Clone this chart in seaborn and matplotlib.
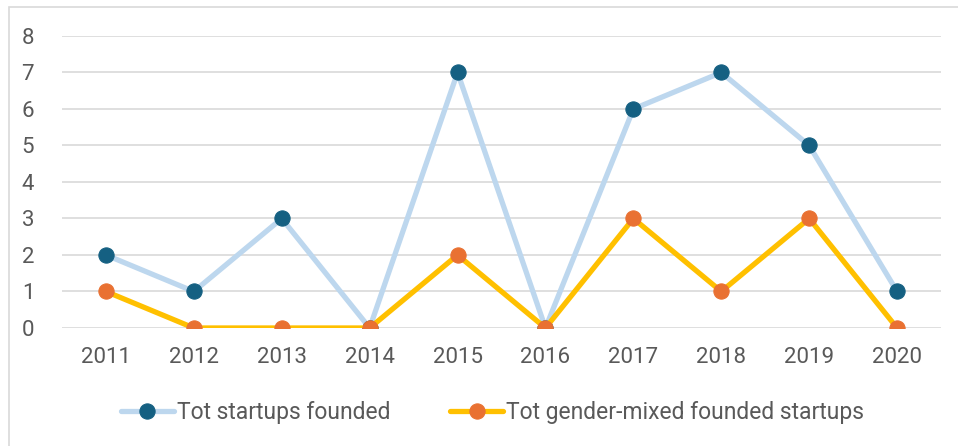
import matplotlib
matplotlib.use("Agg")
import matplotlib.pyplot as plt
import seaborn as sns
import pandas as pd
from matplotlib.patches import Rectangle

years = ["2011", "2012", "2013", "2014", "2015", "2016", "2017", "2018", "2019", "2020"]
tot_startups = [2, 1, 3, 0, 7, 0, 6, 7, 5, 1]
tot_mixed = [1, 0, 0, 0, 2, 0, 3, 1, 3, 0]

df = pd.DataFrame({"year": years, "total": tot_startups, "mixed": tot_mixed})

sns.set_style("white")
plt.rcParams["font.family"] = ["Roboto", "DejaVu Sans"]
text_col = "#595959"

fig = plt.figure(figsize=(9.58, 4.46), dpi=100)
ax = fig.add_axes([0.0647, 0.2646, 0.9176, 0.6547])

# figure border (left/top visible like the original export)
fig.patches.append(Rectangle((9 / 958, -0.1), 1.2, 1 - 7 / 446 + 0.1,
                             transform=fig.transFigure, fill=False,
                             edgecolor="#D9D9D9", linewidth=1.2))

sns.lineplot(data=df, x="year", y="total", ax=ax, color="#BDD7EE", linewidth=3.8,
             marker="o", markersize=11, markerfacecolor="#156082",
             markeredgecolor="#156082", label="Tot startups founded", zorder=3)
sns.lineplot(data=df, x="year", y="mixed", ax=ax, color="#FFC000", linewidth=3.8,
             marker="o", markersize=11, markerfacecolor="#E97132",
             markeredgecolor="#E97132", label="Tot gender-mixed founded startups", zorder=4)

ax.set_xlim(-0.5, 9.5)
ax.set_ylim(0, 8)
ax.set_yticks(range(0, 9))
ax.yaxis.grid(True, color="#D9D9D9", linewidth=1.2)
ax.set_axisbelow(True)
for s in ax.spines.values():
    s.set_visible(False)
ax.tick_params(axis="both", length=0, labelsize=16, colors=text_col)
ax.tick_params(axis="x", pad=14)
ax.tick_params(axis="y", pad=20)
ax.set_xlabel("")
ax.set_ylabel("")

leg = ax.legend(loc="center", bbox_to_anchor=(0.49, -0.29), ncol=2, frameon=False,
                fontsize=16.5, handlelength=2.3, handletextpad=0.15, columnspacing=2.6)
for t in leg.get_texts():
    t.set_color(text_col)

fig.savefig("out.png", dpi=100)
